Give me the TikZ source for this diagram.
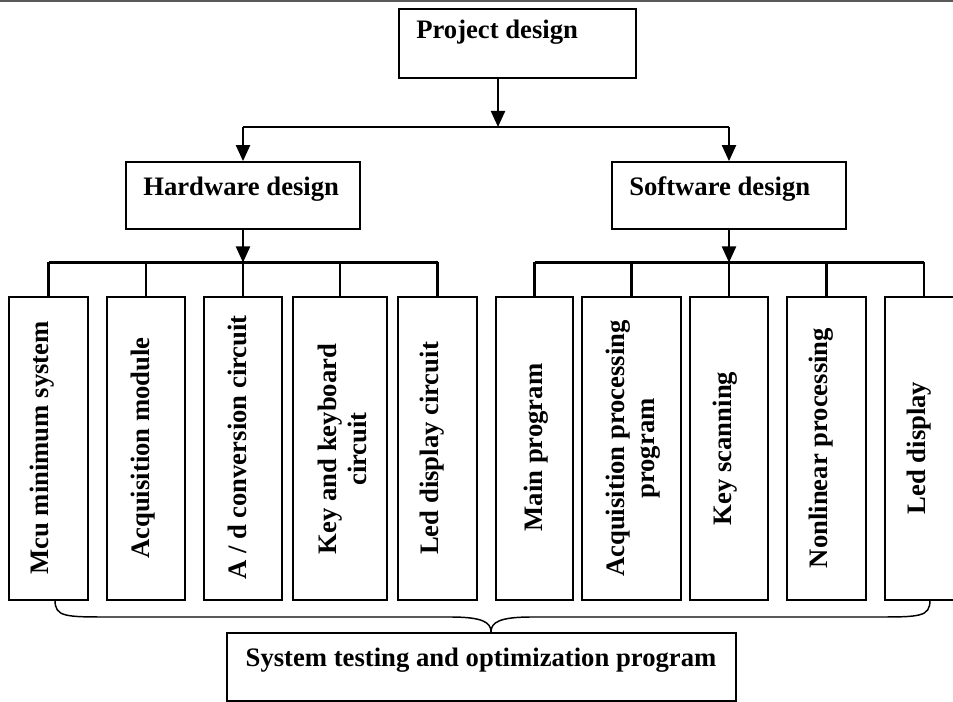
\documentclass[tikz,border=0pt]{standalone}
\usepackage{fontspec}
\setmainfont{Liberation Serif}
\usetikzlibrary{arrows.meta}
\begin{document}
\begin{tikzpicture}[x=0.75pt,y=-0.75pt,
  boxst/.style={draw, line width=1.3pt, inner sep=0pt},
  leaf/.style={boxst, minimum height=227.25pt},
  lbl/.style={font=\fontsize{20}{22.5}\selectfont\bfseries, inner sep=0pt},
  vlbl/.style={lbl, rotate=90, align=center},
  conn/.style={line width=1.6pt},
  arr/.style={conn, -{Triangle[width=10.5pt,length=12pt]}},
  bracest/.style={line width=1.1pt}]
\useasboundingbox (0,0) rectangle (953,702);
\draw[line width=1.5pt, black!65] (0,1) -- (953,1);

% upper boxes
\node[boxst, minimum width=177.75pt, minimum height=51.75pt] (proj) at (517.5,43.5) {};
\node[lbl, anchor=base west] (projt) at (416,39) {Project design};
\node[boxst, minimum width=175.5pt, minimum height=50.25pt] (hw) at (243,195.5) {};
\node[lbl, anchor=base west] (hwt) at (143,196) {Hardware design};
\node[boxst, minimum width=175.5pt, minimum height=50.25pt] (sw) at (729,195.5) {};
\node[lbl, anchor=base west] (swt) at (629,196) {Software design};

% leaf boxes
\node[leaf, minimum width=59.25pt] (b1) at (48.5,448.5) {};
\node[leaf, minimum width=58.5pt] (b2) at (146,448.5) {};
\node[leaf, minimum width=58.5pt] (b3) at (243,448.5) {};
\node[leaf, minimum width=70.5pt] (b4) at (340,448.5) {};
\node[leaf, minimum width=59.25pt] (b5) at (437.5,448.5) {};
\node[leaf, minimum width=57.75pt] (b6) at (534.5,448.5) {};
\node[leaf, minimum width=74.25pt] (b7) at (631.5,448.5) {};
\node[leaf, minimum width=58.5pt] (b8) at (729,448.5) {};
\node[leaf, minimum width=59.25pt] (b9) at (826.5,448.5) {};
\node[leaf, minimum width=58.5pt] (b10) at (924,448.5) {};

\node[vlbl] (t1) at (42.5,448) {Mcu minimum system};
\node[vlbl] (t2) at (143.5,448) {Acquisition module};
\node[vlbl] (t3) at (237.5,447.5) {A / d conversion circuit};
\node[vlbl] (t4) at (342,449) {Key and keyboard\\circuit};
\node[vlbl] (t5) at (432.5,448.5) {Led display circuit};
\node[vlbl] (t6) at (536,447.5) {Main program};
\node[vlbl] (t7) at (633.5,448.5) {Acquisition processing\\program};
\node[vlbl] (t8) at (725,448.5) {Key scanning};
\node[vlbl] (t9) at (821.5,448) {Nonlinear processing};
\node[vlbl] (t10) at (919.5,448) {Led display};

% bottom box
\node[boxst, minimum width=381.75pt, minimum height=51pt] (sys) at (481.5,667) {};
\node[lbl, anchor=base] (syst) at (481,666) {System testing and optimization program};

% connectors top
\coordinate (t0) at (498,127);
\draw[arr] (proj.south -| t0) -- (t0);
\draw[conn] (hw.north |- t0) -- (sw.north |- t0);
\draw[arr] (hw.north |- t0) -- (hw.north);
\draw[arr] (sw.north |- t0) -- (sw.north);

% hardware bus
\coordinate (hb) at (243,262.5);
\draw[arr] (hw.south) -- (hw.south |- hb);
\draw[conn] (b1.north |- hb) -- (b5.north |- hb);
\foreach \b in {b1,b2,b3,b4,b5} \draw[conn] (\b.north |- hb) -- (\b.north);

% software bus
\coordinate (sb) at (729,262.5);
\draw[arr] (sw.south) -- (sw.south |- sb);
\draw[conn] (b6.north |- sb) -- (b10.north |- sb);
\foreach \b in {b6,b7,b8,b9,b10} \draw[conn] (\b.north |- sb) -- (\b.north);

% brace
\coordinate (bl) at (55,600);
\coordinate (br) at (930,600);
\coordinate (bt) at (491,632);
\draw[bracest] (bl) .. controls (55,617) and (65,617) .. (110,617) -- (450,617)
  .. controls (482,617) and (491,622) .. (bt);
\draw[bracest] (br) .. controls (930,617) and (920,617) .. (875,617) -- (532,617)
  .. controls (500,617) and (491,622) .. (bt);
\end{tikzpicture}
\end{document}
